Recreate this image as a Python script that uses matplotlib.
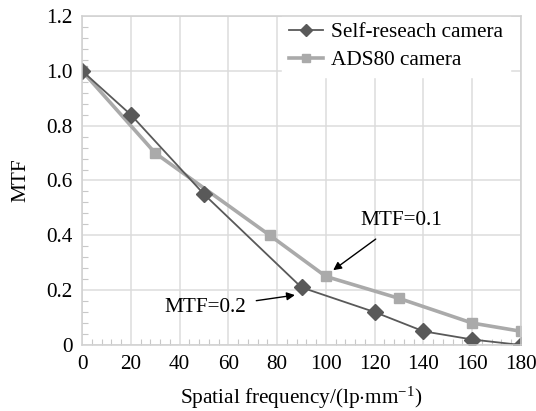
import matplotlib
matplotlib.use("Agg")
import matplotlib.pyplot as plt
from matplotlib.ticker import MultipleLocator

plt.rcParams['font.family'] = ['Liberation Serif', 'DejaVu Serif']
plt.rcParams['mathtext.fontset'] = 'custom'
plt.rcParams['mathtext.rm'] = 'Liberation Serif'
plt.rcParams['mathtext.it'] = 'Liberation Serif:italic'

self_x = [0, 20, 50, 90, 120, 140, 160, 180]
self_y = [1.0, 0.84, 0.55, 0.21, 0.12, 0.05, 0.02, 0.0]
ads_x = [0, 30, 77, 100, 130, 160, 180]
ads_y = [1.0, 0.70, 0.40, 0.25, 0.17, 0.08, 0.05]
x_ticks = [0, 20, 40, 60, 80, 100, 120, 140, 160, 180]
y_ticks = [0, 0.2, 0.4, 0.6, 0.8, 1.0, 1.2]
y_labels = ["0", "0.2", "0.4", "0.6", "0.8", "1.0", "1.2"]

FS = 15.3

fig = plt.figure(figsize=(5.36, 4.11), dpi=100)
ax = fig.add_axes([0.153, 0.1606, 0.819, 0.8005])

dark = '#595959'
light = '#aaaaaa'
ax.plot(ads_x, ads_y, color=light, lw=2.6, marker='s', ms=7.5,
        mfc=light, mec=light, label='ADS80 camera', zorder=3)
ax.plot(self_x, self_y, color=dark, lw=1.3, marker='D', ms=8,
        mfc=dark, mec=dark, label='Self-reseach camera', zorder=4)

ax.set_xlim(0, 180)
ax.set_ylim(0, 1.2)
ax.set_xticks(x_ticks)
ax.set_yticks(y_ticks)
ax.set_yticklabels(y_labels)
ax.xaxis.set_minor_locator(MultipleLocator(4))
ax.yaxis.set_minor_locator(MultipleLocator(0.04))
ax.tick_params(which='major', length=0, labelsize=FS, pad=7, colors='black')
ax.tick_params(which='minor', direction='in', length=4, color='#c8c8c8', width=0.8)
ax.grid(True, which='major', color='#dcdcdc', lw=1.1, zorder=0)
ax.set_axisbelow(True)
for s in ax.spines.values():
    s.set_color('#d0d0d0')
    s.set_linewidth(1.1)
    s.set_zorder(6)

ax.set_xlabel(r"Spatial frequency/(lp$\cdot$mm$^{-1}$)", fontsize=FS, labelpad=8)
ax.set_ylabel("MTF", fontsize=FS, labelpad=11)

handles, labels = ax.get_legend_handles_labels()
leg = ax.legend(handles[::-1], labels[::-1], loc='upper right',
                bbox_to_anchor=(1.0034, 1.0395), fontsize=FS,
                frameon=True, framealpha=1, edgecolor='white', fancybox=False,
                handlelength=1.6, handletextpad=0.4, borderpad=0.3,
                labelspacing=0.4, borderaxespad=0.6, markerscale=0.75)

ax.annotate("MTF=0.2", xy=(87.3, 0.182), xytext=(67.5, 0.135),
            fontsize=FS, ha='right', va='center',
            arrowprops=dict(arrowstyle='-|>', color='black', lw=1,
                            mutation_scale=12, shrinkA=5, shrinkB=0))
ax.annotate("MTF=0.1", xy=(103, 0.273), xytext=(131, 0.455),
            fontsize=FS, ha='center', va='center',
            arrowprops=dict(arrowstyle='-|>', color='black', lw=1,
                            mutation_scale=12, shrinkA=8, shrinkB=0))

fig.savefig("out.png", dpi=100)
